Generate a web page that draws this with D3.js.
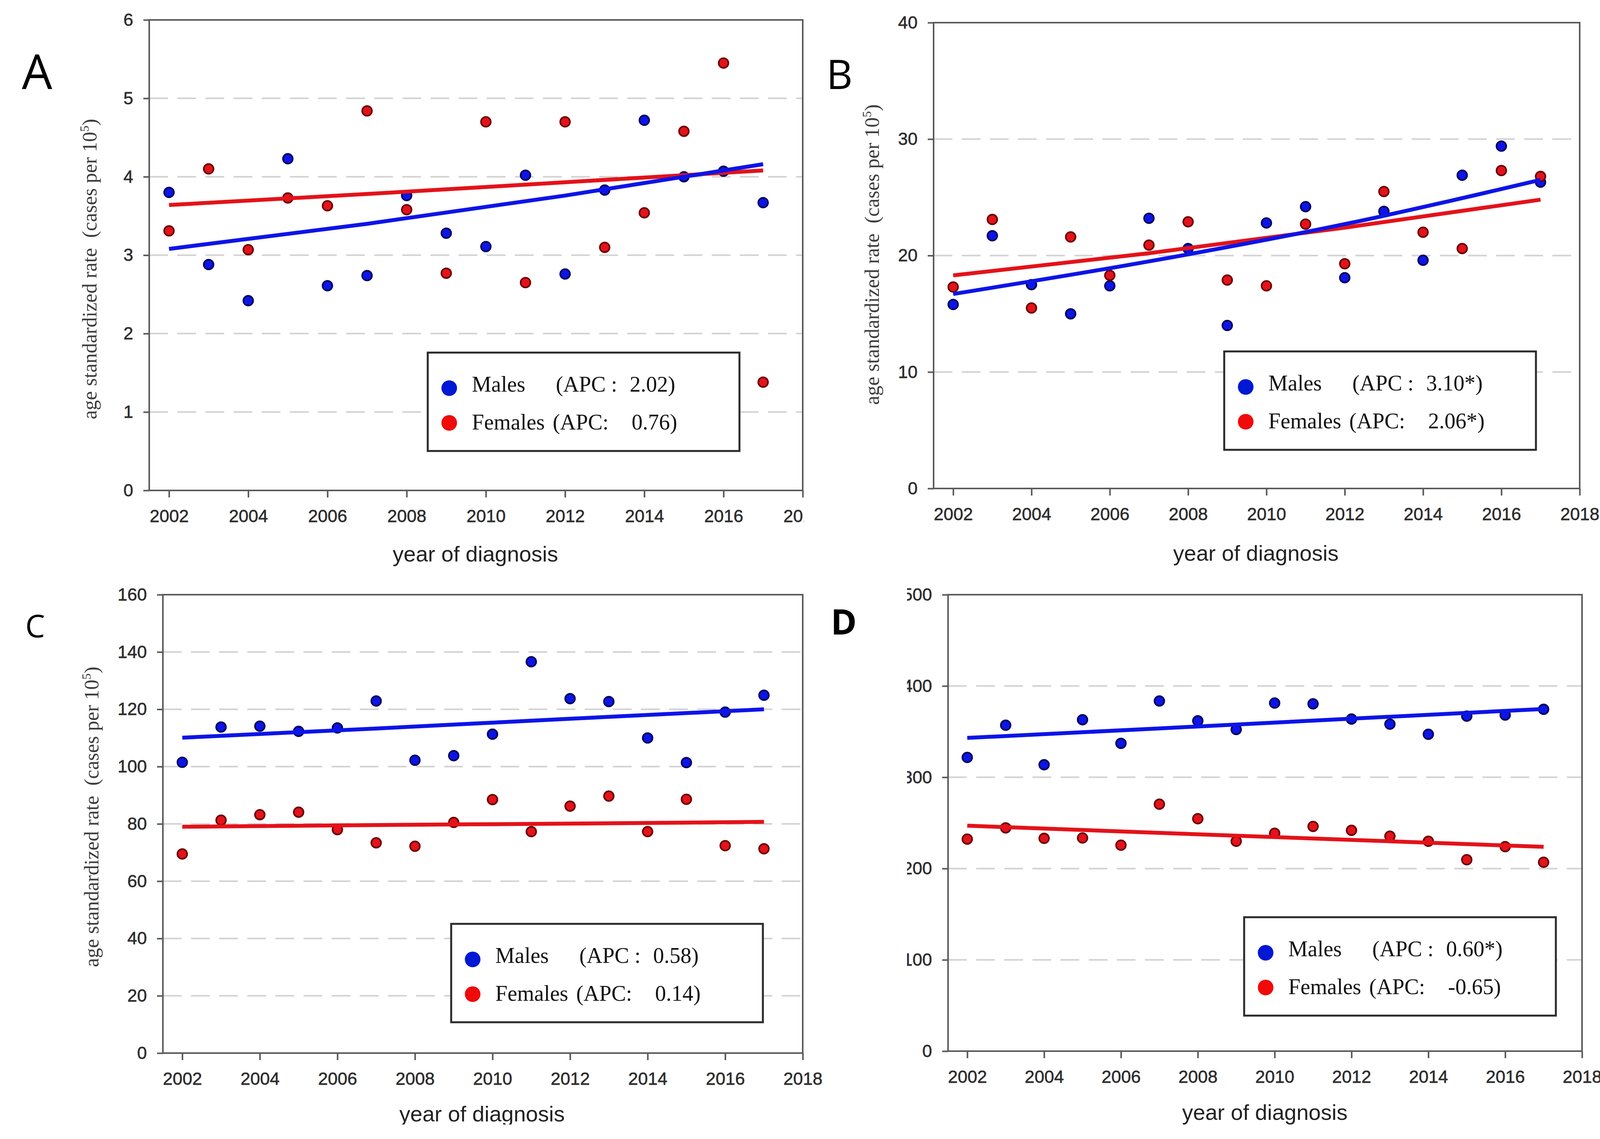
<!DOCTYPE html>
<html>
<head>
<meta charset="utf-8">
<script src="https://cdn.jsdelivr.net/npm/d3@7"></script>
<style>
  body { margin: 0; background: #fff; }
  svg { display: block; }
</style>
</head>
<body>
<svg id="chart" width="4139" height="2917"></svg>
<script>
// ---- data ----
var years = [2002, 2003, 2004, 2005, 2006, 2007, 2008, 2009, 2010, 2011, 2012, 2013, 2014, 2015, 2016, 2017];
var xTicks = [2002, 2004, 2006, 2008, 2010, 2012, 2014, 2016, 2018];
var trendYears = [2002, 2007, 2012, 2017];

var malesA   = [3.80, 2.88, 2.42, 4.23, 2.61, 2.74, 3.76, 3.28, 3.11, 4.02, 2.76, 3.83, 4.72, 4.00, 4.07, 3.67];
var femalesA = [3.31, 4.10, 3.07, 3.73, 3.63, 4.84, 3.58, 2.77, 4.70, 2.65, 4.70, 3.10, 3.54, 4.58, 5.45, 1.38];
var malesTrendA   = [3.08, 3.40, 3.76, 4.16];
var femalesTrendA = [3.64, 3.78, 3.93, 4.08];
var yTicksA = [0, 1, 2, 3, 4, 5, 6];

var malesB   = [15.8, 21.7, 17.5, 15.0, 17.4, 23.2, 20.6, 14.0, 22.8, 24.2, 18.1, 23.8, 19.6, 26.9, 29.4, 26.3];
var femalesB = [17.3, 23.1, 15.5, 21.6, 18.3, 20.9, 22.9, 17.9, 17.4, 22.7, 19.3, 25.5, 22.0, 20.6, 27.3, 26.8];
var malesTrendB   = [16.7, 19.5, 22.7, 26.5];
var femalesTrendB = [18.3, 20.2, 22.4, 24.8];
var yTicksB = [0, 10, 20, 30, 40];

var malesC   = [101.5, 113.8, 114.1, 112.3, 113.5, 122.9, 102.2, 103.8, 111.3, 136.6, 123.7, 122.7, 110.0, 101.4, 119.0, 124.9];
var femalesC = [69.5, 81.3, 83.2, 84.1, 78.0, 73.4, 72.2, 80.5, 88.5, 77.3, 86.2, 89.7, 77.3, 88.6, 72.4, 71.3];
var malesTrendC   = [110.1, 113.3, 116.7, 120.0];
var femalesTrendC = [79.0, 79.6, 80.1, 80.7];
var yTicksC = [0, 20, 40, 60, 80, 100, 120, 140, 160];

var malesD   = [321.7, 357.0, 313.7, 363.0, 337.2, 383.6, 361.8, 352.3, 381.3, 380.5, 363.8, 358.2, 347.1, 367.0, 368.2, 374.5];
var femalesD = [232.3, 244.6, 233.1, 233.5, 225.6, 270.5, 254.6, 229.9, 238.7, 246.2, 241.9, 235.5, 229.9, 209.7, 224.0, 206.9];
var malesTrendD   = [343.1, 353.5, 364.2, 374.8];
var femalesTrendD = [247.0, 239.1, 231.4, 223.8];
var yTicksD = [0, 100, 200, 300, 400, 500];

var panelLetters = ["A", "B", "C", "D"];
var apcMales   = ["2.02)", "3.10*)", "0.58)", "0.60*)"];
var apcFemales = ["0.76)", "2.06*)", "0.14)", "-0.65)"];

// ---- layout (pixels) ----
var panels = [
  {letter: panelLetters[0], males: malesA, females: femalesA, mt: malesTrendA, ft: femalesTrendA, yTicks: yTicksA,
   frame: {l: 382, t: 51, r: 2055, b: 1256}, clip: [0, 0, 2059, 1460],
   legend: {x: 1095, y: 903}, letterPos: {x: 95, y: 228, size: 123, weight: 400},
   yTitle: {x: 247, y: 689}, xTitle: {x: 1217, y: 1438}},
  {letter: panelLetters[1], males: malesB, females: femalesB, mt: malesTrendB, ft: femalesTrendB, yTicks: yTicksB,
   frame: {l: 2390, t: 58, r: 4044, b: 1251}, clip: [2062, 0, 2077, 1460],
   legend: {x: 3134, y: 900}, letterPos: {x: 2149, y: 228, size: 104, weight: 400},
   yTitle: {x: 2250, y: 652}, xTitle: {x: 3215, y: 1436}},
  {letter: panelLetters[2], males: malesC, females: femalesC, mt: malesTrendC, ft: femalesTrendC, yTicks: yTicksC,
   frame: {l: 417, t: 1523, r: 2055, b: 2697}, clip: [0, 1460, 2320, 1420],
   legend: {x: 1155, y: 2366}, letterPos: {x: 90, y: 1632, size: 80, weight: 400},
   yTitle: {x: 252, y: 2092}, xTitle: {x: 1234, y: 2872}},
  {letter: panelLetters[3], males: malesD, females: femalesD, mt: malesTrendD, ft: femalesTrendD, yTicks: yTicksD,
   frame: {l: 2427, t: 1523, r: 4050, b: 2692}, clip: [2322, 1460, 1817, 1457],
   legend: {x: 3185, y: 2349}, letterPos: {x: 2160, y: 1625, size: 90, weight: 700},
   yTitle: {x: 2267, y: 2092}, xTitle: {x: 3238, y: 2868}}
];

var BLUE = "#0c14e8", BLUE_DARK = "#00005a", RED = "#e4121a", RED_DARK = "#6a0000";
var svg = d3.select("#chart");
var defs = svg.append("defs");

panels.forEach(function(p, i) {
  var cid = "clip" + i;
  defs.append("clipPath").attr("id", cid).append("rect")
    .attr("x", p.clip[0]).attr("y", p.clip[1]).attr("width", p.clip[2]).attr("height", p.clip[3]);
  var g = svg.append("g").attr("clip-path", "url(#" + cid + ")");
  var f = p.frame;
  var x = d3.scaleLinear().domain([2001.5, 2018]).range([f.l, f.r]);
  var y = d3.scaleLinear().domain([0, d3.max(p.yTicks)]).range([f.b, f.t]);

  // dashed grid
  g.append("g").selectAll("line").data(p.yTicks.slice(1, -1)).join("line")
    .attr("x1", f.l).attr("x2", f.r)
    .attr("y1", function(d){ return y(d); }).attr("y2", function(d){ return y(d); })
    .attr("stroke", "#d2d2d2").attr("stroke-width", 4).attr("stroke-dasharray", "48,24");

  // legend box
  var L = p.legend;
  var lg = g.append("g").attr("transform", "translate(" + L.x + "," + L.y + ")");
  lg.append("rect").attr("width", 798).attr("height", 252)
    .attr("fill", "#fff").attr("stroke", "#2a2a2a").attr("stroke-width", 5);
  lg.append("circle").attr("cx", 55).attr("cy", 91).attr("r", 20).attr("fill", "#0018d4");
  lg.append("circle").attr("cx", 55).attr("cy", 180).attr("r", 20).attr("fill", "#f00a0a");
  var pieces = [
    ["Males", 113, 100], ["(APC :", 328, 100], [apcMales[i], 517, 100],
    ["Females", 113, 197], ["(APC:", 320, 197], [apcFemales[i], 522, 197]
  ];
  pieces.forEach(function(s) {
    lg.append("text").attr("x", s[1]).attr("y", s[2])
      .attr("font-family", "'Liberation Serif', 'Times New Roman', serif")
      .attr("font-size", 56).attr("fill", "#111").text(s[0]);
  });

  // points
  [[p.males, BLUE, BLUE_DARK], [p.females, RED, RED_DARK]].forEach(function(s) {
    g.append("g").selectAll("circle").data(s[0]).join("circle")
      .attr("cx", function(d, j){ return x(years[j]); })
      .attr("cy", function(d){ return y(d); })
      .attr("r", 12.5).attr("fill", s[1]).attr("stroke", s[2]).attr("stroke-width", 4);
  });

  // fitted trends
  var line = d3.line().curve(d3.curveMonotoneX)
    .x(function(d, j){ return x(trendYears[j]); }).y(function(d){ return y(d); });
  g.append("path").datum(p.ft).attr("d", line).attr("fill", "none").attr("stroke", RED).attr("stroke-width", 10);
  g.append("path").datum(p.mt).attr("d", line).attr("fill", "none").attr("stroke", BLUE).attr("stroke-width", 10);

  // frame
  g.append("rect").attr("x", f.l).attr("y", f.t).attr("width", f.r - f.l).attr("height", f.b - f.t)
    .attr("fill", "none").attr("stroke", "#5a5a5a").attr("stroke-width", 4);

  // axes
  var xa = g.append("g").attr("transform", "translate(0," + f.b + ")")
    .call(d3.axisBottom(x).tickValues(xTicks).tickFormat(d3.format("d")).tickSizeInner(18).tickSizeOuter(0).tickPadding(31));
  var ya = g.append("g").attr("transform", "translate(" + f.l + ",0)")
    .call(d3.axisLeft(y).tickValues(p.yTicks).tickFormat(d3.format("d")).tickSizeInner(15).tickSizeOuter(0).tickPadding(26));
  [xa, ya].forEach(function(a) {
    a.select(".domain").remove();
    a.selectAll(".tick line").attr("stroke", "#5a5a5a").attr("stroke-width", 4);
    a.selectAll(".tick text").attr("font-family", "'Liberation Sans', Arial, sans-serif")
      .attr("font-size", 45).attr("fill", "#2e2e2e").attr("stroke", "#2e2e2e").attr("stroke-width", 0.8);
  });

  // titles
  g.append("text").attr("x", p.xTitle.x).attr("y", p.xTitle.y).attr("text-anchor", "middle")
    .attr("font-family", "'Liberation Sans', Arial, sans-serif").attr("font-size", 56).attr("fill", "#222")
    .text("year of diagnosis");
  var yt = g.append("text")
    .attr("transform", "translate(" + p.yTitle.x + "," + p.yTitle.y + ") rotate(-90)")
    .attr("text-anchor", "middle").style("white-space", "pre")
    .attr("font-family", "'Liberation Serif', 'Times New Roman', serif").attr("font-size", 52).attr("fill", "#3c3c3c");
  yt.append("tspan").text("age standardized rate  (cases per 10");
  yt.append("tspan").attr("dy", -20).attr("font-size", 32).text("5");
  yt.append("tspan").attr("dy", 20).text(")");

  // panel letter
  svg.append("text").attr("x", p.letterPos.x).attr("y", p.letterPos.y).attr("text-anchor", "middle")
    .attr("font-family", "'Open Sans', 'Liberation Sans', sans-serif")
    .attr("font-size", p.letterPos.size).attr("font-weight", p.letterPos.weight).attr("fill", "#000")
    .text(p.letter);
});
</script>
</body>
</html>
